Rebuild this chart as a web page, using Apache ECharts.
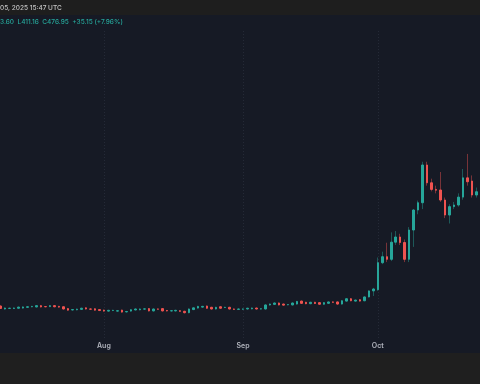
<!DOCTYPE html>
<html><head><meta charset="utf-8">
<script src="https://cdn.jsdelivr.net/npm/echarts@6/dist/echarts.min.js"></script>
<style>html,body{margin:0;padding:0;background:#161a25;overflow:hidden;}#c{width:480px;height:384px;}</style>
</head><body><div id="c"></div>
<script>
// Daily candles, Jul 9 - Oct 24 2025
const startDate = '2025-07-09';
const dayCount = 108;
const opens = [
41.2,39.6,39.9,39.9,40.0,40.1,40.5,40.8,40.7,41.4,
40.9,40.9,41.4,41.0,40.8,39.8,39.1,39.2,39.4,40.2,
39.6,39.7,39.3,39.0,38.5,38.8,38.5,39.0,38.1,38.5,
39.1,39.2,39.55,39.8,38.6,39.6,39.8,38.8,38.6,38.6,
38.7,38.4,37.7,39.3,40.1,40.6,41.2,40.5,39.6,40.8,
40.4,40.5,39.6,39.4,39.5,39.6,39.7,40.1,39.6,39.6,
41.8,42.1,42.9,42.3,41.9,41.8,42.3,44.0,43.3,42.5,
43.3,43.1,42.2,42.7,43.5,43.5,42.3,44.0,45.4,44.0,
44.8,44.2,46.5,50.4,51.2,73.4,79.5,76.8,96.5,103.4,
96.1,76.8,113.5,148.2,163.3,270,213,195,193.5,169.3,
138.6,155,158.4,176,227.5,218,181,189];
const closes = [
39.9,40.1,40.0,40.1,40.6,40.7,40.8,41.0,41.4,40.7,
40.8,41.4,40.8,40.6,39.6,39.0,39.3,39.5,40.0,39.6,
39.5,39.0,38.8,38.5,38.9,38.9,38.7,38.0,38.3,39.2,
39.6,39.6,39.65,38.6,39.6,39.5,38.6,38.6,38.7,38.9,
38.4,37.7,39.6,40.2,41.0,41.0,40.0,39.6,40.5,40.0,
40.5,39.6,39.4,39.6,39.6,40.0,40.1,39.6,39.7,41.8,
42.3,42.9,41.8,41.7,42.0,42.9,43.8,42.7,42.5,43.3,
42.6,42.2,43.1,43.5,43.3,42.3,44.2,45.4,44.2,44.6,
44.0,46.5,50.4,51.7,73.4,79.5,76.8,96.5,103.4,96.1,
76.8,113.5,148.2,163.3,270,213,195,193,169.3,138.6,
155,158.4,176,227.5,216,181,189,230];
const lows = [
39.6,39.3,39.6,39.6,39.7,39.8,40.2,40.5,40.4,40.4,
40.5,40.6,40.5,40.3,39.3,38.7,38.8,38.9,39.1,39.3,
39.2,38.7,38.5,38.2,38.2,38.5,38.2,37.7,37.8,38.2,
38.8,38.9,39.2,38.3,38.3,39.2,38.3,38.3,38.3,38.3,
38.1,37.3,37.4,39.0,39.8,40.3,39.7,39.3,39.3,39.7,
40.1,39.3,39.1,39.1,39.2,39.3,39.4,39.3,39.3,39.3,
41.4,41.8,41.5,41.4,41.6,41.5,42.0,42.4,42.2,42.2,
42.3,41.9,41.9,42.4,43.0,41.9,42.0,43.7,43.9,43.7,
43.7,43.9,46.2,47.1,50.5,72.0,74.0,75.0,93.0,93.0,
74.0,74.0,90.6,140,150,205,190,185,165,133,
123.8,150,155,170,205,175,175,185];
const highs = [
41.6,40.4,40.3,40.4,40.9,41.0,41.1,41.3,41.7,41.7,
41.2,41.7,41.7,41.3,41.1,40.1,39.6,39.8,40.3,40.5,
39.9,40.0,39.6,39.3,39.2,39.2,39.0,39.3,38.6,39.5,
39.9,39.9,39.9,40.1,39.9,39.9,40.1,39.1,39.0,39.2,
39.0,38.7,39.9,40.5,41.3,41.3,41.5,40.8,40.8,41.1,
40.8,40.8,39.9,39.9,39.9,40.3,40.4,40.4,40.0,42.1,
42.6,43.2,43.2,42.6,42.3,43.2,44.1,44.3,43.6,43.6,
43.6,43.4,43.4,43.8,43.8,43.8,44.5,45.7,45.8,44.9,
45.1,46.8,50.7,52.5,78.7,85.0,95.8,110,112,108,
100,118,150,168,282,282,225,205,246,175,
160,165,185,256,313,235,200,245];
const monthStarts = ['2025-08-01','2025-09-01','2025-10-01'];
const monthLabels = ['Aug','Sep','Oct'];
const headerDate = '05, 2025 15:47 UTC';
const headerOHLC = '3.60  L411.16  C476.95  +35.15 (+7.96%)';

const UP = '#26a69a', DOWN = '#ef5350';
function dstr(d){const m=d.getUTCMonth()+1, dd=d.getUTCDate();return d.getUTCFullYear()+'-'+(m<10?'0':'')+m+'-'+(dd<10?'0':'')+dd;}
const categories = [];
{const s=new Date(startDate+'T00:00:00Z');for(let i=0;i<dayCount;i++){categories.push(dstr(new Date(s.getTime()+i*86400000)));}}
const wickData = opens.map((o,i)=>[o,closes[i],lows[i],highs[i]]);
const bodyData = opens.map((o,i)=>[o,closes[i],Math.min(o,closes[i]),Math.max(o,closes[i])]);

const chart = echarts.init(document.getElementById('c'), null, {renderer:'canvas'});
chart.setOption({
  animation:false,
  backgroundColor:'#161a25',
  grid:{left:-1.6,width:484.9,top:30,height:308,containLabel:false,outerBoundsMode:'none'},
  xAxis:{type:'category',data:categories,boundaryGap:true,
    axisLine:{show:false},axisTick:{show:false},splitLine:{show:false},
    axisLabel:{show:true,margin:4,color:'#b2b5be',fontSize:7,fontFamily:'Inter',fontWeight:600,
      interval:(idx,val)=>monthStarts.indexOf(val)>=0,
      formatter:(val)=>{const k=monthStarts.indexOf(val);return k>=0?monthLabels[k]:'';}}},
  yAxis:{type:'log',logBase:10,min:26.9,max:1633.4,show:false,splitLine:{show:false}},
  series:[
    {type:'candlestick',name:'wick',data:wickData,barWidth:1,silent:true,z:1,
      itemStyle:{color:'rgba(0,0,0,0)',color0:'rgba(0,0,0,0)',borderColor:'rgba(38,166,154,0.45)',borderColor0:'rgba(239,83,80,0.45)',borderWidth:1},
      markLine:{silent:true,symbol:['none','none'],label:{show:false},
        lineStyle:{type:[1,2],color:'rgba(120,130,150,0.16)',width:1},
        data:monthStarts.map(m=>({xAxis:m}))}},
    {type:'candlestick',name:'body',data:bodyData,barWidth:2,silent:true,z:2,
      itemStyle:{color:UP,color0:DOWN,borderColor:UP,borderColor0:DOWN,borderWidth:1}}
  ],
  graphic:[
    {type:'rect',shape:{x:0,y:0,width:480,height:15},style:{fill:'#1e1e1e'},silent:true},
    {type:'rect',shape:{x:0,y:353,width:480,height:31},style:{fill:'#1f1f1f'},silent:true},
    {type:'text',x:0,y:8,style:{text:headerDate,fill:'#c4c4c4',font:'500 6.5px Inter',verticalAlign:'middle'}},
    {type:'text',x:0,y:22,style:{text:headerOHLC,fill:'#26a69a',font:'500 6.5px Inter',verticalAlign:'middle'}}
  ]
});
</script></body></html>
